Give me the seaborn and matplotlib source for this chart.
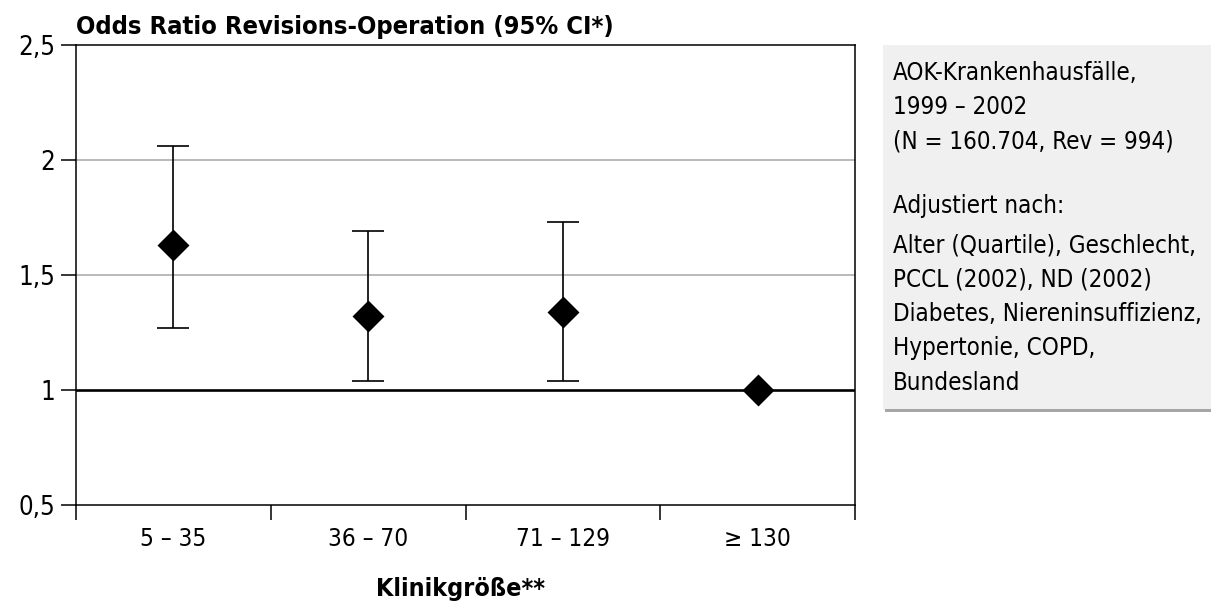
import numpy as np
import pandas as pd
import seaborn as sns
import matplotlib.pyplot as plt
from matplotlib.patches import Rectangle

# data
kliniken = ['5 – 35', '36 – 70', '71 – 129', '≥ 130']
odds_ratio = [1.63, 1.32, 1.34, 1.00]
ci_lower = [1.27, 1.04, 1.04, np.nan]
ci_upper = [2.06, 1.69, 1.73, np.nan]
y_ticks = [0.5, 1.0, 1.5, 2.0, 2.5]
y_labels = ['0,5', '1', '1,5', '2', '2,5']

info_lines = [
    'AOK-Krankenhausfälle,',
    '1999 – 2002',
    '(N = 160.704, Rev = 994)',
]
adjust_lines = [
    'Alter (Quartile), Geschlecht,',
    'PCCL (2002), ND (2002)',
    'Diabetes, Niereninsuffizienz,',
    'Hypertonie, COPD,',
    'Bundesland',
]

sns.set_style('white')
plt.rcParams['font.family'] = ['DejaVu Sans']
plt.rcParams['font.stretch'] = 'condensed'
plt.rcParams['text.color'] = 'black'
plt.rcParams['xtick.color'] = 'black'
plt.rcParams['ytick.color'] = 'black'
plt.rcParams['axes.labelcolor'] = 'black'

df = pd.DataFrame({'klinik': kliniken, 'odds': odds_ratio,
                   'lo': ci_lower, 'hi': ci_upper})

W, H = 1211, 603
fig = plt.figure(figsize=(W / 100, H / 100), dpi=100)
ax = fig.add_axes([76 / W, 1 - 505 / H, 779 / W, 460 / H])

# reference grid lines
for y in [1.5, 2.0]:
    ax.axhline(y, color='#b4b4b4', lw=1.3, zorder=0)
ax.axhline(1.0, color='black', lw=1.9, zorder=1)

pos = np.arange(len(df))
ax.errorbar(pos, df['odds'], yerr=[df['odds'] - df['lo'], df['hi'] - df['odds']],
            fmt='none', ecolor='black', elinewidth=1.2, capsize=11.5,
            capthick=1.2, zorder=2)
sns.pointplot(data=df, x='klinik', y='odds', linestyle='none', markers='D',
              color='black', errorbar=None, markersize=14, ax=ax, zorder=3)

ax.set_xlim(-0.5, len(df) - 0.5)
ax.set_ylim(0.5, 2.5)
ax.set_yticks(y_ticks)
ax.set_yticklabels(y_labels, fontsize=18.5)
ax.set_xticks(np.arange(-0.5, len(df), 1.0))
ax.set_xticklabels([])
ax.set_xticks(pos, minor=True)
ax.set_xticklabels(kliniken, minor=True, fontsize=17.5)
ax.tick_params(axis='x', which='major', direction='out', length=11,
               width=1.1, color='black', bottom=True)
ax.tick_params(axis='x', which='minor', length=0, pad=15.5)
ax.tick_params(axis='y', direction='out', length=11, width=1.1,
               color='black', left=True, pad=4)
for s in ax.spines.values():
    s.set_visible(True)
    s.set_color('black')
    s.set_linewidth(1.1)

ax.set_xlabel('Klinikgröße**', fontsize=18, fontweight='bold')
ax.xaxis.label.set_va('baseline')
ax.xaxis.set_label_coords(0.493, -(596 - 505) / 460)
ax.set_ylabel('')
ax.text(0.0, 1.012, 'Odds Ratio Revisions-Operation (95% CI*)',
        transform=ax.transAxes, fontsize=18.3, fontweight='bold',
        ha='left', va='bottom')

# info box on the right
fig.patches.append(Rectangle((883 / W, 1 - 410 / H), 328 / W, 365 / H,
                             transform=fig.transFigure, facecolor='#f0f0f0',
                             edgecolor='none', zorder=0))
fig.patches.append(Rectangle((885 / W, 1 - 412 / H), 326 / W, 3 / H,
                             transform=fig.transFigure, facecolor='#a6a6a6',
                             edgecolor='none', zorder=0))
for i, line in enumerate(info_lines):
    fig.text(893 / W, 1 - (73 + i * 34.5) / H, line, fontsize=17.3,
             va='center', ha='left')
fig.text(893 / W, 1 - 206 / H, 'Adjustiert nach:', fontsize=17.3,
         va='center', ha='left')
for i, line in enumerate(adjust_lines):
    fig.text(893 / W, 1 - (245 + i * 34.5) / H, line, fontsize=17.3,
             va='center', ha='left')

fig.savefig('out.png', dpi=100)
